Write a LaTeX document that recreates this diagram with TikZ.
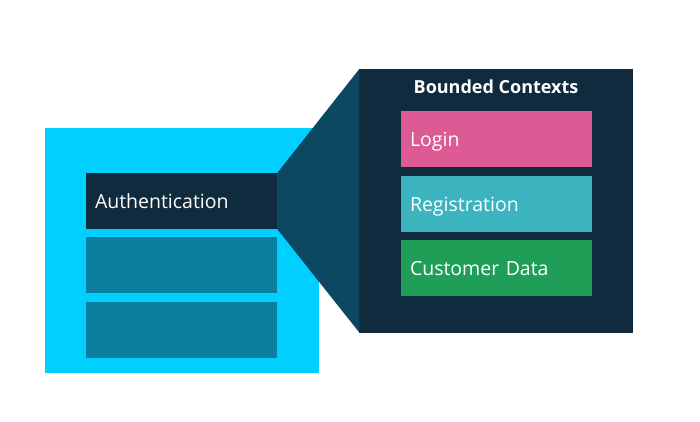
\documentclass[tikz,border=0pt]{standalone}
\usepackage{fontspec}
\setmainfont{Open Sans}
\usetikzlibrary{positioning}
\definecolor{skyblue}{HTML}{00CFFF}
\definecolor{navy}{HTML}{102A3E}
\definecolor{funnelblue}{HTML}{0D4862}
\definecolor{slotblue}{HTML}{0A7FA0}
\definecolor{loginpink}{HTML}{DD5A94}
\definecolor{regteal}{HTML}{3CB4BF}
\definecolor{custgreen}{HTML}{1F9E58}
\tikzset{
	block/.style={anchor=north west, inner sep=0pt, outer sep=0pt},
	ctxbox/.style={anchor=north west, outer sep=0pt, inner xsep=9pt, inner ysep=0pt,
		text width=173pt, text height=14.5pt, text depth=0pt, minimum height=55.5pt,
		align=left, text=white, font=\fontsize{19.5}{22}\selectfont},
}
\begin{document}
\begin{tikzpicture}[x=1pt,y=-1pt]
\useasboundingbox (0,0) rectangle (700,421);
% left: the domain with its slots
\node[block, fill=skyblue, minimum width=273.5pt, minimum height=244.5pt] (domain) at (45,128) {};
\node[ctxbox, fill=navy] (auth) at (86,173.3) {Authentication};
\node[ctxbox, fill=slotblue] (slotA) at (86,237) {};
\node[ctxbox, fill=slotblue] (slotB) at (86,302) {};
% right: the zoomed view
\node[block, fill=navy, minimum width=273.5pt, minimum height=263.5pt] (zoom) at (359.3,69) {};
\fill[funnelblue] (auth.north east) -- (zoom.north west) -- (zoom.south west) -- (auth.south east) -- cycle;
\node[anchor=base, text=white, font=\bfseries\fontsize{18}{21}\selectfont] (title) at (496,93) {Bounded Contexts};
\node[ctxbox, fill=loginpink] (login) at (401,111) {Login};
\node[ctxbox, fill=regteal] (register) at (401,176) {Registration};
\node[ctxbox, fill=custgreen] (customer) at (401,240.3) {Customer Data};
\end{tikzpicture}
\end{document}
